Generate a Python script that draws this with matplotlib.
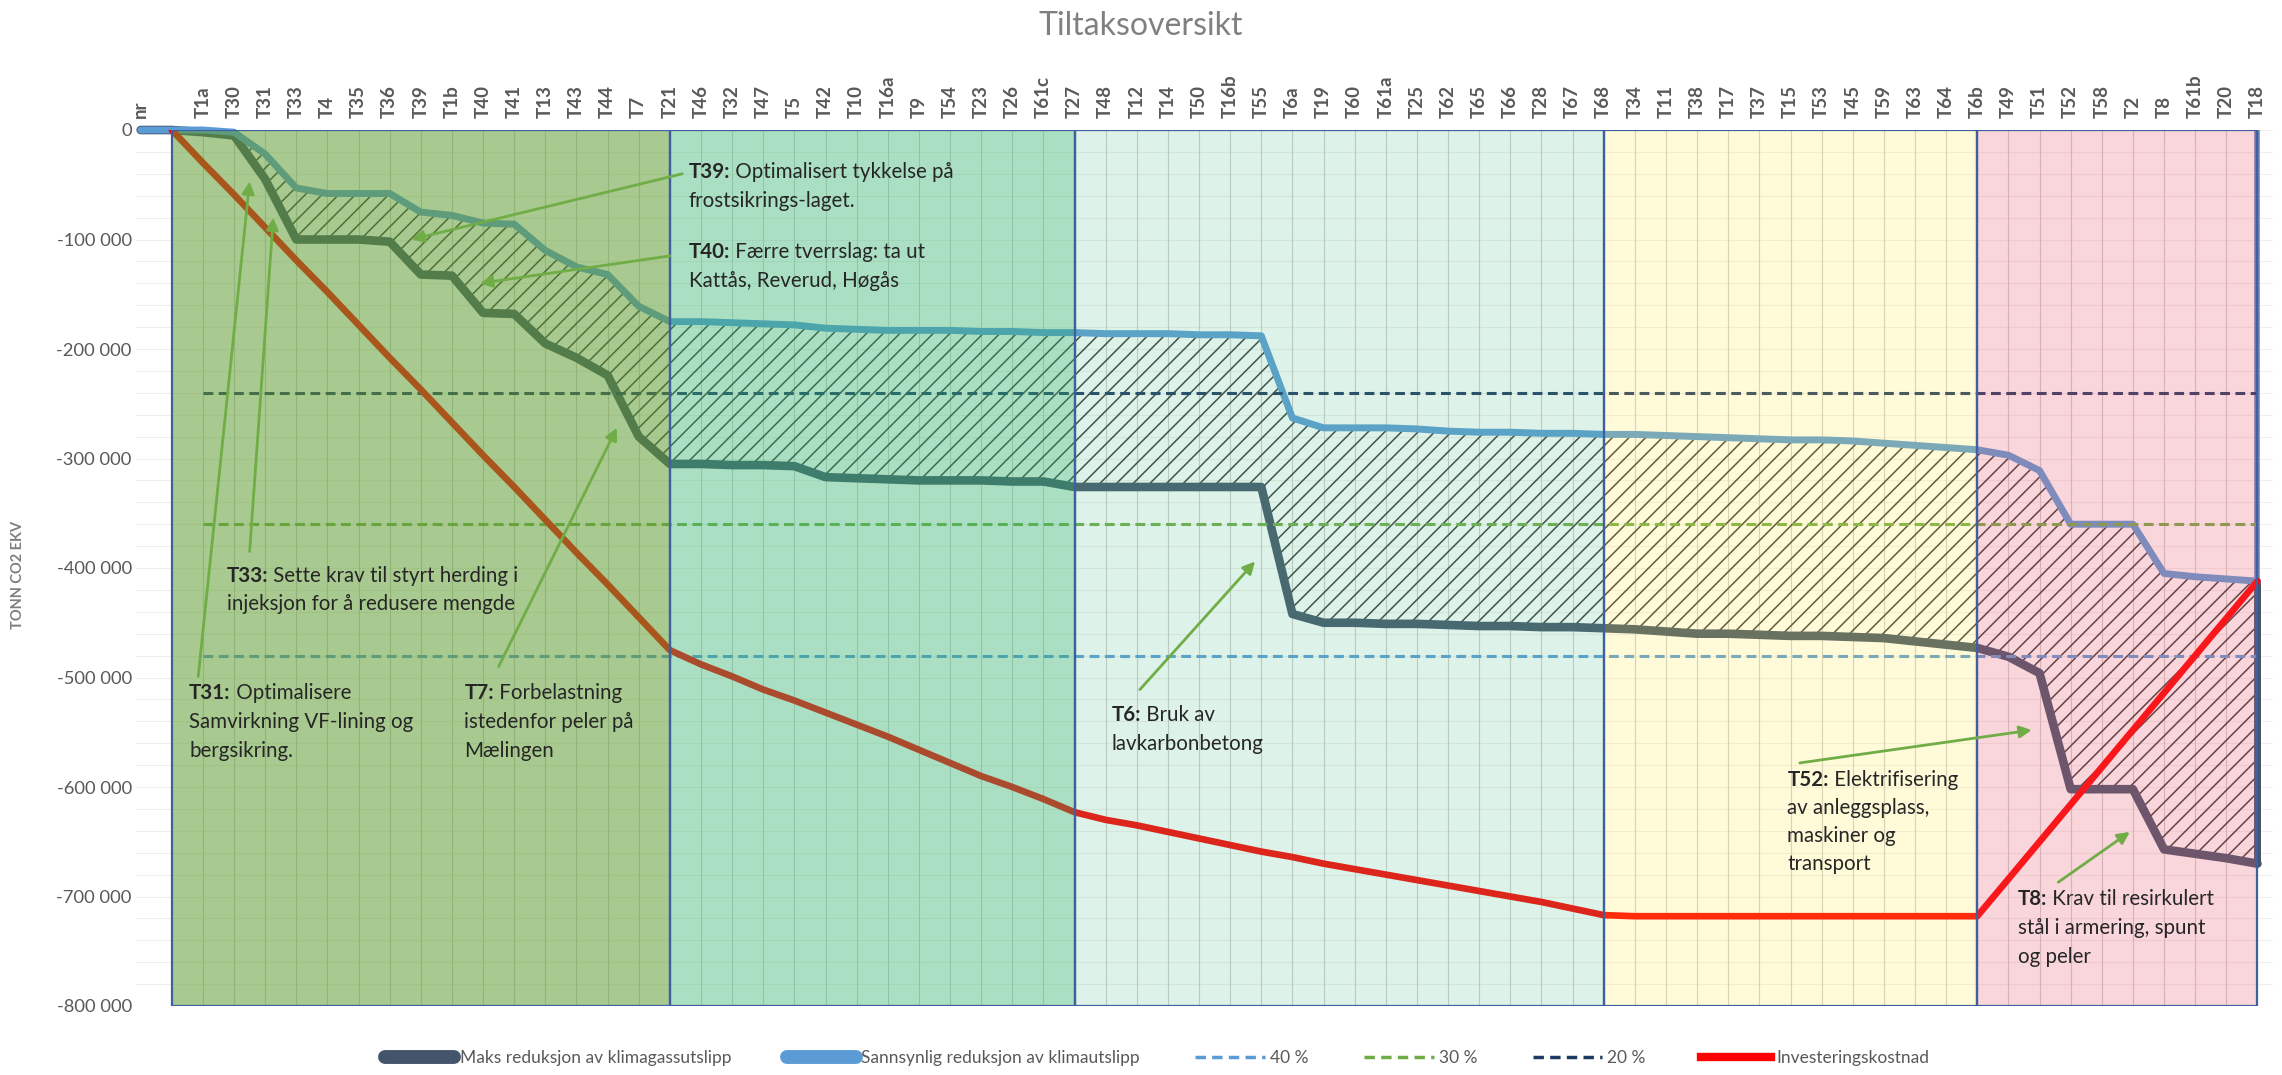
import numpy as np
import matplotlib
matplotlib.use("Agg")
import matplotlib.pyplot as plt
from matplotlib.lines import Line2D

plt.rcParams['font.family'] = ['Lato', 'DejaVu Sans']
plt.rcParams['hatch.linewidth'] = 1.1

# ---------------- data ----------------
categories = ["nr", "", "T1a", "T30", "T31", "T33", "T4", "T35", "T36", "T39", "T1b",
              "T40", "T41", "T13", "T43", "T44", "T7", "T21", "T46", "T32", "T47",
              "T5", "T42", "T10", "T16a", "T9", "T54", "T23", "T26", "T61c", "T27",
              "T48", "T12", "T14", "T50", "T16b", "T55", "T6a", "T19", "T60", "T61a",
              "T25", "T62", "T65", "T66", "T28", "T67", "T68", "T34", "T11", "T38",
              "T17", "T37", "T15", "T53", "T45", "T59", "T63", "T64", "T6b", "T49",
              "T51", "T52", "T58", "T2", "T8", "T61b", "T20", "T18"]

maks_reduksjon = [0, 0, -2000, -5000, -45000, -100000, -100000, -100000, -102000, -132000,
                  -133000, -167000, -168000, -195000, -208000, -224000, -280000, -305000,
                  -305000, -306000, -306000, -307000, -317000, -318000, -319000, -320000,
                  -320000, -320000, -321000, -321000, -326000, -326000, -326000, -326000,
                  -326000, -326000, -326000, -442000, -450000, -450000, -451000, -451000,
                  -452000, -453000, -453000, -454000, -454000, -455000, -456000, -458000,
                  -460000, -460000, -461000, -462000, -462000, -463000, -464000, -467000,
                  -470000, -473000, -481000, -496000, -602000, -602000, -602000, -657000,
                  -661000, -665000, -670000]

sannsynlig_reduksjon = [0, 0, 0, -2000, -22000, -53000, -58000, -58000, -58000, -75000,
                        -78000, -85000, -86000, -110000, -125000, -132000, -161000, -175000,
                        -175000, -176000, -177000, -178000, -181000, -182000, -183000, -183000,
                        -183000, -184000, -184000, -185000, -185000, -186000, -186000, -186000,
                        -187000, -187000, -188000, -263000, -272000, -272000, -272000, -273000,
                        -275000, -276000, -276000, -277000, -277000, -278000, -278000, -279000,
                        -280000, -281000, -282000, -283000, -283000, -284000, -286000, -288000,
                        -290000, -292000, -297000, -311000, -360000, -360000, -360000, -405000,
                        -408000, -410000, -412000]

investeringskostnad = [np.nan, 0, -30000, -59000, -89000, -119000, -148000, -178000, -208000,
                       -237000, -267000, -297000, -326000, -356000, -386000, -415000, -445000,
                       -475000, -488000, -499000, -511000, -521000, -532000, -543000, -554000,
                       -566000, -578000, -590000, -600000, -611000, -623000, -630000, -635000,
                       -641000, -647000, -653000, -659000, -664000, -670000, -675000, -680000,
                       -685000, -690000, -695000, -700000, -705000, -711000, -717000, -718000,
                       -718000, -718000, -718000, -718000, -718000, -718000, -718000, -718000,
                       -718000, -718000, -718000, -684000, -650000, -616000, -582000, -548000,
                       -514000, -480000, -446000, -412000]

target_labels = ["40 %", "30 %", "20 %"]
target_values = [-480000, -360000, -240000]

y_ticks = [0, -100000, -200000, -300000, -400000, -500000, -600000, -700000, -800000]
y_tick_labels = ["0", "-100 000", "-200 000", "-300 000", "-400 000", "-500 000",
                 "-600 000", "-700 000", "-800 000"]

region_bounds = [("", "T21"), ("T21", "T27"), ("T27", "T68"), ("T68", "T6b"), ("T6b", "T18")]

series_labels = ["Maks reduksjon av klimagassutslipp", "Sannsynlig reduksjon av klimautslipp",
                 "Investeringskostnad"]

# ---------------- styling ----------------
C_DARK = '#44546A'
C_LIGHT = '#5B9BD5'
C_RED = '#FF0000'
target_colors = ['#5B9BD5', '#70AD47', '#1F3864']
region_colors = [((0.38, 0.62, 0.20), 0.55),
                 ((0.22, 0.71, 0.44), 0.42),
                 ((0.35, 0.75, 0.55), 0.20),
                 ((1.00, 0.90, 0.25), 0.20),
                 ((0.92, 0.36, 0.44), 0.25)]
GRAY = '#595959'

W, H = 2282, 1075
fig = plt.figure(figsize=(W / 100, H / 100), dpi=100)
left_px, right_px, top_px, bot_px = 136, 2273, 130, 1006
ax = fig.add_axes([left_px / W, 1 - bot_px / H, (right_px - left_px) / W, (bot_px - top_px) / H])

x = np.arange(len(categories))
ax.set_xlim(-0.15, 68.5)
ax.set_ylim(-800000, 0)

# gridlines
for v in np.arange(0, -800001, -20000):
    ax.axhline(v, color='#EFEFEF', lw=0.8, zorder=0)
for i in x[2:-1]:
    ax.axvline(i, color='#CFCFCF', lw=0.8, zorder=1)

# hatch between the two reduction curves
ax.fill_between(x, maks_reduksjon, sannsynlig_reduksjon, facecolor='none',
                edgecolor='#3A3A3A', hatch='//', linewidth=0, zorder=2)

ax.plot(x, maks_reduksjon, color=C_DARK, lw=6.2, solid_joinstyle='round',
        solid_capstyle='round', zorder=3, clip_on=False)
ax.plot(x, sannsynlig_reduksjon, color=C_LIGHT, lw=5.0, solid_joinstyle='round',
        solid_capstyle='round', zorder=4, clip_on=False)
ax.vlines(x[-1], maks_reduksjon[-1], sannsynlig_reduksjon[-1], color=C_DARK, lw=5, zorder=3)
ax.vlines(x[-1], sannsynlig_reduksjon[-1], 0, color='#6A80B4', lw=4, zorder=3)

i_start = categories.index("T1a")
for v, c in zip(target_values, target_colors):
    ax.plot([x[i_start], x[-1]], [v, v], color=c, lw=2.2, ls=(0, (3.2, 1.8)), zorder=5)

ax.plot(x, investeringskostnad, color=C_RED, lw=4.8, solid_joinstyle='round',
        solid_capstyle='round', zorder=6)

# coloured phase regions (semi-transparent, over the lines)
for (a, b), (col, al) in zip(region_bounds, region_colors):
    ax.axvspan(categories.index(a), categories.index(b), facecolor=(*col, al),
               edgecolor='#3F5F9F', lw=1.6, zorder=7)

# axes styling
for s in ax.spines.values():
    s.set_visible(False)
ax.xaxis.tick_top()
ax.set_xticks(x)
ax.set_xticklabels(categories, rotation=90, fontsize=13.5, fontweight='bold', color=GRAY)
ax.tick_params(axis='x', length=0, pad=9)
ax.set_yticks(y_ticks)
ax.set_yticklabels(y_tick_labels)
ax.tick_params(axis='y', length=0, pad=3, labelsize=13.2, labelcolor=GRAY)

# annotations (layout)
FS = 14.8
notes = [
    ("T39:", ["Optimalisert tykkelse på", "frostsikrings-laget."], 17.6, -38000, 26500,
     (17.4, -40000), (8.7, -100000)),
    ("T40:", ["Færre tverrslag: ta ut", "Kattås, Reverud, Høgås"], 17.6, -111000, 26500,
     (17.0, -115000), (10.9, -140000)),
    ("T33:", ["Sette krav til styrt herding i", "injeksjon for å redusere mengde"], 2.76, -407000,
     25500, (3.5, -385000), (4.26, -80000)),
    ("T31:", ["Optimalisere", "Samvirkning VF-lining og", "bergsikring."], 1.56, -514000, 26500,
     (1.85, -499000), (3.5, -47000)),
    ("T7:", ["Forbelastning", "istedenfor peler på", "Mælingen"], 10.4, -514000, 26500,
     (11.5, -490000), (15.3, -272000)),
    ("T6:", ["Bruk av", "lavkarbonbetong"], 31.2, -534000, 26500,
     (32.1, -511000), (35.8, -394000)),
    ("T52:", ["Elektrifisering", "av anleggsplass,", "maskiner og", "transport"], 52.9, -594000,
     25500, (53.3, -578000), (60.75, -548000)),
    ("T8:", ["Krav til resirkulert", "stål i armering, spunt", "og peler"], 60.3, -702000, 26500,
     (61.6, -687000), (63.9, -641000)),
]
for head, lines, xp, yp, dy, tail, tip in notes:
    t = ax.text(xp, yp, head, fontsize=FS, fontweight='bold', color='#262626',
                va='center', ha='left', zorder=10)
    ax.annotate(" " + lines[0], xy=(1, 0), xycoords=t, fontsize=FS, color='#262626',
                va='bottom', ha='left', zorder=10)
    for k, ln in enumerate(lines[1:]):
        ax.text(xp, yp - (k + 1) * dy, ln, fontsize=FS, color='#262626', va='center',
                ha='left', zorder=10)
    ax.annotate("", xy=tip, xytext=tail,
                arrowprops=dict(arrowstyle='-|>', color='#70AD47', lw=2, mutation_scale=18,
                                shrinkA=0, shrinkB=0), zorder=10)

# title & axis label
fig.text(0.5, 1 - 26 / H, "Tiltaksoversikt", ha='center', va='center', fontsize=23,
         color='#808080')
fig.text(18 / W, 1 - 575 / H, "TONN CO2 EKV", rotation=90, ha='center', va='center',
         fontsize=10.5, color='#7F7F7F', fontweight='bold')

# legend
handles = [Line2D([], [], color=C_DARK, lw=10, solid_capstyle='round'),
           Line2D([], [], color=C_LIGHT, lw=10, solid_capstyle='round')]
labels = series_labels[:2]
for lab, c in zip(target_labels, target_colors):
    handles.append(Line2D([], [], color=c, lw=2.5, ls=(0, (3, 1.8))))
    labels.append(lab)
handles.append(Line2D([], [], color=C_RED, lw=6))
labels.append(series_labels[2])
leg = fig.legend(handles, labels, loc='center', bbox_to_anchor=(0.507, 1 - 1058 / H), ncol=6,
                 frameon=False, fontsize=12.5, handlelength=4.0, columnspacing=3.2,
                 handletextpad=0.3)
for t in leg.get_texts():
    t.set_color(GRAY)

fig.savefig("out.png", dpi=100)
